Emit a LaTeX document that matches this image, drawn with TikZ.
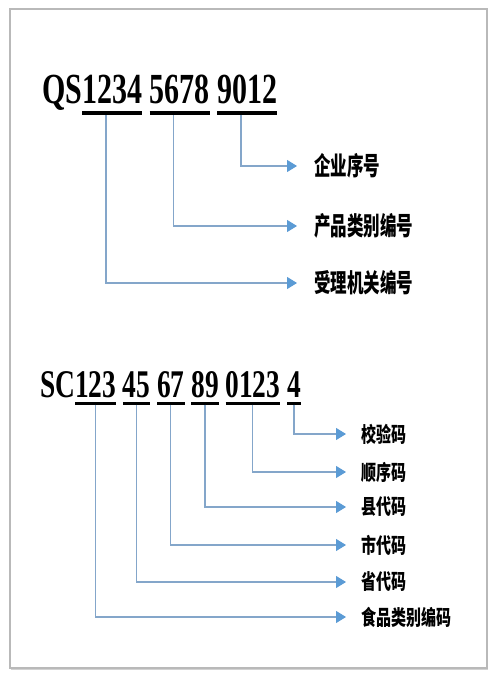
\documentclass[tikz,border=0pt]{standalone}
\usepackage{fontspec}
\setmainfont{Liberation Serif}
\newfontfamily\cjk{Noto Sans CJK SC}
\usepackage{graphicx}
\usetikzlibrary{positioning,arrows.meta,shadows}
\definecolor{linkblue}{RGB}{132,166,202}
\definecolor{tipblue}{RGB}{91,155,213}
\newcommand\tall[2][1.43]{\scalebox{1}[#1]{#2}}

\begin{document}
\begin{tikzpicture}[x=1pt,y=-1pt,
  code/.style={inner sep=0pt,outer sep=0pt,anchor=base west,font=\bfseries\fontsize{30}{36}\selectfont},
  codes/.style={code,font=\bfseries\fontsize{27.4}{33}\selectfont},
  lbl/.style={inner sep=0pt,anchor=west,font=\cjk\bfseries\fontsize{16.5}{20}\selectfont},
  lbls/.style={lbl,font=\cjk\bfseries\fontsize{15}{18}\selectfont},
  uline/.style={line width=4pt},
  ulines/.style={line width=3pt},
  link/.style={draw=linkblue,line width=1.1pt,-{Triangle[length=10pt,width=12pt,color=tipblue]}},
  frame/.style={draw=gray!55,line width=1.2pt,fill=white,
    drop shadow={shadow xshift=1pt,shadow yshift=-1.5pt,fill=black!35}}]
\useasboundingbox (0,0) rectangle (497,677);
\draw[frame] (10,9) rectangle (487,668);

% old QS number
\node[code] (qs) at (42,103) {\tall{QS}};
\node[code] (q1) [base right=0pt of qs] {\tall{1234}};
\node[code] (q2) [base right=7.5pt of q1] {\tall{5678}};
\node[code] (q3) [base right=7.5pt of q2] {\tall{9012}};
\foreach \g in {q1,q2,q3}
  \draw[uline] ([yshift=-10pt]\g.base west) -- ([yshift=-10pt]\g.base east);

\node[lbl] (lq3) at (314,166) {\tall[1.55]{企业序号}};
\node[lbl] (lq2) at (314,226) {\tall[1.55]{产品类别编号}};
\node[lbl] (lq1) at (314,283) {\tall[1.55]{受理机关编号}};
\draw[link,shorten >=17pt] ([xshift=-6pt,yshift=-12pt]q3.base) |- (lq3.west);
\draw[link,shorten >=17pt] ([xshift=-6pt,yshift=-12pt]q2.base) |- (lq2.west);
\draw[link,shorten >=17pt] ([xshift=-6pt,yshift=-12pt]q1.base) |- (lq1.west);

% new SC number
\node[codes] (sc) at (40,397) {\tall{SC}};
\node[codes] (s1) [base right=0pt of sc] {\tall{123}};
\node[codes] (s2) [base right=6.8pt of s1] {\tall{45}};
\node[codes] (s3) [base right=6.8pt of s2] {\tall{67}};
\node[codes] (s4) [base right=6.8pt of s3] {\tall{89}};
\node[codes] (s5) [base right=6.8pt of s4] {\tall{0123}};
\node[codes] (s6) [base right=6.8pt of s5] {\tall{4}};
\foreach \g in {s1,s2,s3,s4,s5,s6}
  \draw[ulines] ([yshift=-6pt]\g.base west) -- ([yshift=-6pt]\g.base east);

\node[lbls] (ls6) at (361,434) {\tall[1.4]{校验码}};
\node[lbls] (ls5) at (361,472) {\tall[1.4]{顺序码}};
\node[lbls] (ls4) at (361,507) {\tall[1.4]{县代码}};
\node[lbls] (ls3) at (361,545) {\tall[1.4]{市代码}};
\node[lbls] (ls2) at (361,582) {\tall[1.4]{省代码}};
\node[lbls] (ls1) at (361,617) {\tall[1.4]{食品类别编码}};
\foreach \i in {1,...,6}
  \draw[link,shorten >=15pt] ([yshift=-7.5pt]s\i.base) |- (ls\i.west);
\end{tikzpicture}
\end{document}
